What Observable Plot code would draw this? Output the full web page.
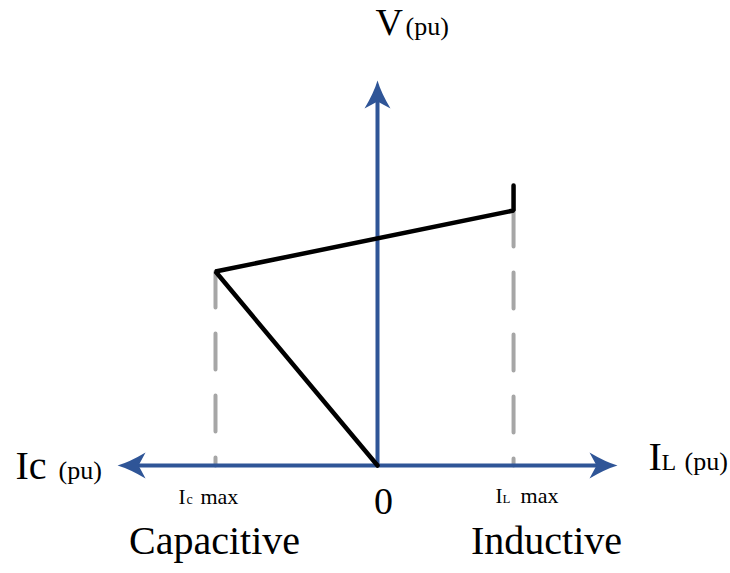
<!DOCTYPE html>
<html><head><meta charset="utf-8">
<script src="https://cdn.jsdelivr.net/npm/d3@7"></script>
<script src="https://cdn.jsdelivr.net/npm/@observablehq/plot@0.6"></script>
<style>body{margin:0;background:#fff} #chart svg{display:block}</style>
</head><body><div id="chart"></div>
<script>
// SVC V-I characteristic (per unit values)
const curveI = [0, -1.08, 0.907, 0.907];
const curveV = [0, 1.293, 1.70, 1.867];
const IcMax = -1.08, ILMax = 0.907;
const VatIcMax = 1.293, VatILMax = 1.70;
const axisXMin = -1.733, axisXMax = 1.6, axisYMax = 2.567;
const axisLabels = { v: "V", pu: "(pu)", ic: "Ic", il: ["I", "L"] };
const tickLabels = { zero: "0", icmax: ["I", "c", "max"], ilmax: ["I", "L", "max"] };
const regionLabels = ["Capacitive", "Inductive"];

const blue = "#2f5597", gray = "#a6a6a6";
const font = "Liberation Serif";

function arrowSymbol(dx, dy) {
  const pts = (u, v) => [u * dx - v * dy, u * dy + v * dx];
  return {
    draw(ctx) {
      const tip = pts(0, 0), c1 = pts(-28, -13), c2 = pts(-28, 13), n = pts(-21, 0);
      const q1 = pts(-12, -3.5), q2 = pts(-12, 3.5);
      ctx.moveTo(...tip);
      ctx.quadraticCurveTo(...q1, ...c1);
      ctx.lineTo(...n);
      ctx.lineTo(...c2);
      ctx.quadraticCurveTo(...q2, ...tip);
      ctx.closePath();
    }
  };
}

const pad = 0.1;
const curve = curveI.map((x, i) => ({x, y: curveV[i]}));

function label(x, y, t, size, dx, dy, anchor = "start") {
  return Plot.text([{x, y, t}], {x: "x", y: "y", text: "t", fontSize: size, dx, dy,
    textAnchor: anchor, lineAnchor: "bottom", fontFamily: font, fill: "black"});
}

const plot = Plot.plot({
  width: 730, height: 573, margin: 0,
  x: {domain: [-2.5133, 2.3533], axis: null},
  y: {domain: [-0.72, 3.1], axis: null},
  marks: [
    Plot.link([{x1: IcMax, y1: VatIcMax, x2: IcMax, y2: 0}, {x1: ILMax, y1: VatILMax, x2: ILMax, y2: 0}],
      {x1: "x1", y1: "y1", x2: "x2", y2: "y2", stroke: gray, strokeWidth: 4,
       strokeDasharray: "36,26", strokeLinecap: "round"}),
    Plot.link([{x1: axisXMin + pad, y1: 0, x2: axisXMax - pad, y2: 0}, {x1: 0, y1: 0, x2: 0, y2: axisYMax - pad}],
      {x1: "x1", y1: "y1", x2: "x2", y2: "y2", stroke: blue, strokeWidth: 4}),
    Plot.dot([{x: axisXMax, y: 0}], {x: "x", y: "y", symbol: arrowSymbol(1, 0), fill: blue, stroke: "none"}),
    Plot.dot([{x: axisXMin, y: 0}], {x: "x", y: "y", symbol: arrowSymbol(-1, 0), fill: blue, stroke: "none"}),
    Plot.dot([{x: 0, y: axisYMax}], {x: "x", y: "y", symbol: arrowSymbol(0, -1), fill: blue, stroke: "none"}),
    Plot.line(curve, {x: "x", y: "y", stroke: "black", strokeWidth: 4.5, strokeLinejoin: "miter"}),
    // axis titles
    label(0, axisYMax, axisLabels.v, 38, -2, -45),
    label(0, axisYMax, axisLabels.pu, 26, 28, -45),
    label(axisXMin, 0, axisLabels.ic, 40, -102, 13),
    label(axisXMin, 0, axisLabels.pu, 26, -59, 13),
    label(axisXMax, 0, axisLabels.il[0], 40, 31, 4),
    label(axisXMax, 0, axisLabels.il[1], 24, 44, 4),
    label(axisXMax, 0, axisLabels.pu, 26, 67, 4),
    // ticks
    label(0, 0, tickLabels.zero, 38, 6, 48, "middle"),
    label(IcMax, 0, tickLabels.icmax[0], 21, -37, 38),
    label(IcMax, 0, tickLabels.icmax[1], 14, -29, 38),
    label(IcMax, 0, tickLabels.icmax[2], 22, -15, 38),
    label(ILMax, 0, tickLabels.ilmax[0], 21, -18, 37),
    label(ILMax, 0, tickLabels.ilmax[1], 13, -11, 37),
    label(ILMax, 0, tickLabels.ilmax[2], 22, 7, 37),
    // regions
    label(IcMax, 0, regionLabels[0], 40, -1, 88, "middle"),
    label(ILMax, 0, regionLabels[1], 40, 33, 88, "middle")
  ]
});
document.getElementById("chart").appendChild(plot);
</script>
</body></html>
